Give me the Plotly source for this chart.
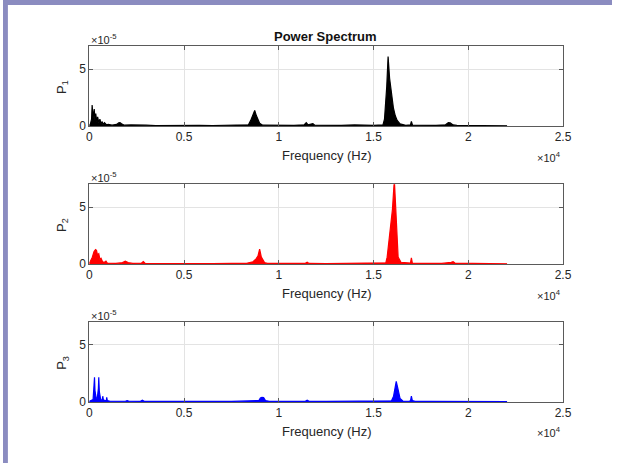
import plotly.graph_objects as go

W, H = 621, 470
UNIT = 1e-5  # spectra below are given in units of 1e-5

# ---- channel 1 (black) ----
f1 = [0, 60, 120, 150, 200, 260, 300, 340, 390, 440, 500, 560, 620, 680, 720, 800, 900,
      1000, 1200, 1450, 1550, 1620, 1700, 1850, 2200, 2600, 3000, 3500, 4200, 5000, 5800,
      6500, 7300, 8000, 8400, 8520, 8650, 8730, 8820, 8920, 8990, 9150, 10000, 10800,
      11350, 11450, 11550, 11700, 11800, 11900, 12500, 13300, 14000, 14500, 15000,
      15500, 15580, 15700, 15770, 15850, 15950, 16050, 16150, 16250, 16400, 16700,
      16950, 17000, 17060, 17500, 18300, 18800, 18950, 19050, 19200, 19400, 20200,
      21000, 21600, 22050]
p1 = [0.05, 0.2, 0.6, 1.85, 0.7, 1.5, 0.5, 1.1, 0.4, 0.8, 0.3, 0.6, 0.2, 0.4, 0.15, 0.3, 0.12,
      0.15, 0.08, 0.15, 0.28, 0.3, 0.2, 0.08, 0.1, 0.06, 0.08, 0.05, 0.07, 0.05, 0.06,
      0.05, 0.06, 0.07, 0.12, 0.5, 1.1, 1.38, 0.9, 0.5, 0.25, 0.08, 0.06, 0.07,
      0.12, 0.3, 0.1, 0.2, 0.22, 0.08, 0.06, 0.07, 0.1, 0.06, 0.07,
      0.1, 0.6, 3.5, 6.1, 4.2, 2.6, 1.6, 0.9, 0.5, 0.2, 0.07,
      0.1, 0.4, 0.08, 0.06, 0.07, 0.12, 0.3, 0.28, 0.1, 0.06, 0.05,
      0.05, 0.04, 0.02]

# ---- channel 2 (red) ----
f2 = [0, 80, 160, 250, 330, 380, 430, 500, 560, 620, 700, 800, 880, 950, 1100, 1400, 1750,
      1900, 2050, 2300, 2750, 2850, 2950, 3500, 4500, 5500, 6500, 7500, 8300, 8640, 8800,
      8900, 8990, 9080, 9180, 9250, 9400, 10200, 11400, 11500, 11600, 12500, 13500, 14500,
      15300, 15650, 15720, 15850, 16000, 16100, 16180, 16250, 16300, 16450, 16800,
      16950, 17000, 17050, 17600, 18600, 19100, 19200, 19300, 20000, 21000, 21700, 22050]
p2 = [0.05, 0.3, 0.6, 1.1, 1.27, 1.2, 0.8, 0.9, 0.4, 0.5, 0.2, 0.15, 0.25, 0.08, 0.06, 0.05, 0.12,
      0.25, 0.12, 0.05, 0.08, 0.22, 0.06, 0.05, 0.04, 0.05, 0.04, 0.05, 0.06, 0.2, 0.45,
      0.7, 1.3, 0.6, 0.35, 0.12, 0.05, 0.04, 0.06, 0.15, 0.05, 0.04, 0.05, 0.05,
      0.06, 0.1, 0.6, 2.5, 4.8, 7.4, 4.0, 1.6, 0.6, 0.15, 0.06,
      0.08, 0.55, 0.08, 0.05, 0.05, 0.15, 0.2, 0.08, 0.05, 0.04, 0.03, 0.02]

# ---- channel 3 (blue) ----
f3 = [0, 100, 200, 250, 275, 300, 360, 420, 480, 500, 530, 600, 680, 710, 740, 820, 900,
      920, 950, 1100, 1500, 1900, 2000, 2100, 2700, 2800, 2900, 3500, 4500, 5500, 6500,
      7500, 8500, 8950, 9030, 9110, 9200, 9300, 9500, 10500, 11400, 11500, 11600, 12500,
      13800, 14800, 15500, 15950, 16060, 16150, 16200, 16270, 16340, 16400, 16550,
      16900, 16960, 17000, 17050, 17200, 18000, 19000, 20000, 21000, 21700, 22050]
p3 = [0.05, 0.1, 0.2, 1.5, 2.17, 1.0, 0.35, 0.3, 1.2, 2.17, 0.9, 0.2, 0.15, 0.5, 0.2, 0.12, 0.15,
      0.4, 0.12, 0.06, 0.05, 0.06, 0.12, 0.06, 0.05, 0.15, 0.05, 0.04, 0.05, 0.04, 0.05,
      0.04, 0.05, 0.12, 0.35, 0.4, 0.38, 0.12, 0.05, 0.04, 0.05, 0.15, 0.05, 0.04,
      0.05, 0.04, 0.06, 0.1, 0.5, 1.3, 1.8, 1.3, 0.7, 0.3, 0.08,
      0.05, 0.15, 0.5, 0.12, 0.05, 0.04, 0.05, 0.04, 0.04, 0.03, 0.02]

series = [(f1, p1, "#000000", "P<sub>1</sub>"),
          (f2, p2, "#ff0000", "P<sub>2</sub>"),
          (f3, p3, "#0000ff", "P<sub>3</sub>")]

x_ticks = [0, 5000, 10000, 15000, 20000, 25000]
x_tick_text = ["0", "0.5", "1", "1.5", "2", "2.5"]
y_ticks = [0, 5 * UNIT]
y_tick_text = ["0", "5"]

# pixel boxes of the three axes (top, bottom), shared left/right
X_LEFT, X_RIGHT = 88, 571
BOXES = [(47, 128), (187, 268), (327, 408)]

FONT = "Liberation Sans, Arial, Helvetica, sans-serif"
TXT = "#262626"
AXC = "#5a5a5a"

def px(x):
    return x / W

def py(y):
    return 1 - y / H

def label(text, x, y, size, **kw):
    return dict(text=text, x=px(x), y=py(y), xref="paper", yref="paper",
                showarrow=False, xanchor=kw.pop("xanchor", "center"), yanchor="middle",
                font=dict(family=FONT, size=size, color=kw.pop("color", TXT)), **kw)

fig = go.Figure()
annotations = []

for i, ((f, p, color, name), (top, bot)) in enumerate(zip(series, BOXES), start=1):
    xa = "x" if i == 1 else f"x{i}"
    ya = "y" if i == 1 else f"y{i}"
    fig.add_trace(go.Scatter(
        x=f, y=[v * UNIT for v in p], mode="lines",
        line=dict(color=color, width=1.2),
        fill="tozeroy", fillcolor=color,
        xaxis=xa, yaxis=ya, showlegend=False, hoverinfo="skip"))

    axis_common = dict(showline=True, linecolor=AXC, linewidth=1, mirror="allticks",
                       ticks="inside", ticklen=4, tickcolor=AXC, showgrid=True,
                       gridcolor="#e3e3e3", gridwidth=1, zeroline=False,
                       tickfont=dict(family=FONT, size=12, color=TXT))
    fig.layout[f"xaxis{'' if i == 1 else i}"] = dict(
        axis_common, domain=[px(X_LEFT), px(X_RIGHT)], range=[0, 25000],
        tickvals=x_ticks, ticktext=x_tick_text, anchor=ya)
    fig.layout[f"yaxis{'' if i == 1 else i}"] = dict(
        axis_common, domain=[py(bot), py(top)], range=[0, 7 * UNIT],
        tickvals=y_ticks, ticktext=y_tick_text, anchor=xa)

    # axis titles and exponent labels
    annotations.append(label("Frequency (Hz)", (X_LEFT + X_RIGHT) / 2 + 0.5, bot + 30, 13))
    annotations.append(label("×10<sup>4</sup>", X_RIGHT, bot + 31, 11, xanchor="right"))
    annotations.append(label("×10<sup>-5</sup>", X_LEFT, top - 7, 11, xanchor="left"))
    annotations.append(label(name, 60, (top + bot) / 2 + 1, 13, textangle=-90))

annotations.append(label("<b>Power Spectrum</b>", 329, 37, 13, color="#111111"))

# window frame strips along the top and left edges
shapes = [
    dict(type="rect", xref="paper", yref="paper", x0=0, x1=1, y0=py(5), y1=1,
         fillcolor="#8b8cc0", line=dict(width=0), layer="above"),
    dict(type="rect", xref="paper", yref="paper", x0=0, x1=px(5), y0=0, y1=1,
         fillcolor="#8b8cc0", line=dict(width=0), layer="above"),
]

fig.update_layout(width=W, height=H, margin=dict(l=0, r=0, t=0, b=0),
                  paper_bgcolor="#ffffff", plot_bgcolor="#ffffff",
                  annotations=annotations, shapes=shapes)

fig.write_html("out.html")
